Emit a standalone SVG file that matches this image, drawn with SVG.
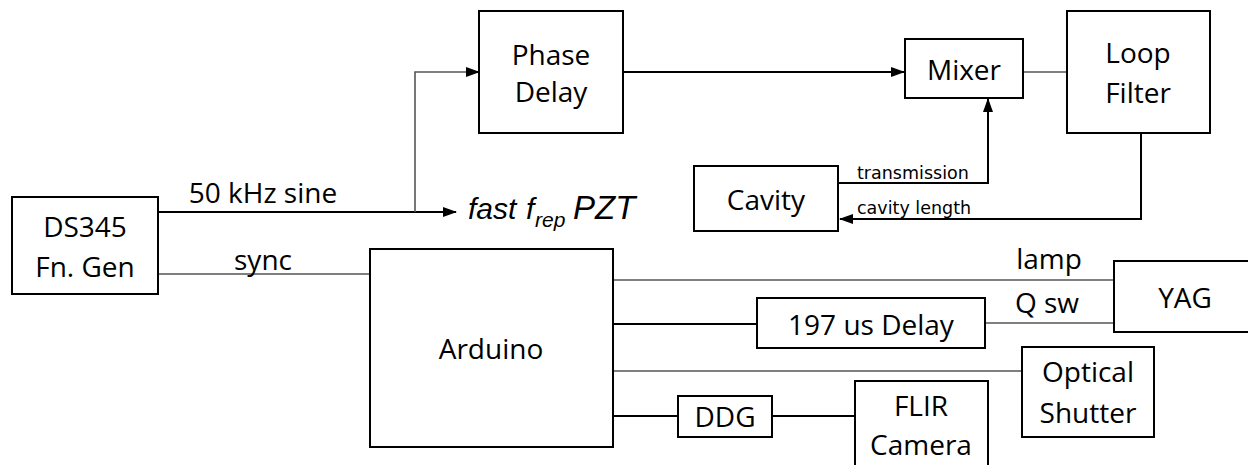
<svg xmlns="http://www.w3.org/2000/svg" width="1248" height="465" viewBox="0 0 1248 465">
<defs>
<marker id="arr" markerUnits="userSpaceOnUse" markerWidth="14" markerHeight="10" refX="13" refY="5" orient="auto">
<path d="M0,0 L14,5 L0,10 z" fill="#000"/>
</marker>
<style>
.box{fill:#fff;stroke:#000;stroke-width:2}
.t{font-family:"Open Sans","Liberation Sans",sans-serif;font-size:28px;fill:#000;text-anchor:middle}
.s{font-family:"DejaVu Sans",sans-serif;font-size:17.5px;fill:#000}
.w{fill:none;stroke:#000;stroke-width:2}
.g{fill:none;stroke:#555;stroke-width:1.6}
.it{font-family:"Liberation Sans",Arial,sans-serif;font-style:italic;font-size:30px;fill:#000}
</style>
</defs>
<rect width="1248" height="465" fill="#fff"/>
<g id="connectors">
<path class="w" d="M158,212 H456" marker-end="url(#arr)"/>
<path class="g" d="M415,212 V72 H466"/>
<path class="w" d="M466,72 H479" marker-end="url(#arr)"/>
<path class="w" d="M623,72 H904" marker-end="url(#arr)"/>
<path class="g" d="M1023,72 H1067"/>
<path class="w" d="M838,183 H988 V99" marker-end="url(#arr)"/>
<path class="w" d="M1141,133 V219 H840" marker-end="url(#arr)"/>
<path class="g" d="M158,274 H370"/>
<path class="g" d="M613,280 H1114"/>
<path class="w" d="M613,324 H757"/>
<path class="g" d="M985,323 H1114"/>
<path class="g" d="M613,371 H1022"/>
<path class="w" d="M613,416 H678"/>
<path class="w" d="M772,416 H855"/>
<text class="t" x="263" y="203">50 kHz sine</text>
<text class="t" x="263" y="270">sync</text>
<text class="t" x="1049" y="269">lamp</text>
<text class="t" x="1047" y="313">Q sw</text>
<text class="s" x="857" y="179">transmission</text>
<text class="s" x="857" y="214">cavity length</text>
<text class="it" y="219"><tspan x="468">fast</tspan><tspan x="526">f</tspan><tspan x="535" dy="8" font-size="21">rep</tspan><tspan x="573" dy="-8" font-size="33">PZT</tspan></text>
</g>
<g id="ds345">
<rect class="box" x="12" y="197" width="146" height="97"/>
<text class="t" x="85" y="237">DS345</text>
<text class="t" x="85" y="277">Fn. Gen</text>
</g>
<g id="phase-delay">
<rect class="box" x="479" y="11" width="144" height="122"/>
<text class="t" x="551" y="65">Phase</text>
<text class="t" x="551" y="102">Delay</text>
</g>
<g id="mixer">
<rect class="box" x="905" y="39" width="118" height="59"/>
<text class="t" x="964" y="80">Mixer</text>
</g>
<g id="loop-filter">
<rect class="box" x="1067" y="11" width="143" height="122"/>
<text class="t" x="1138" y="63">Loop</text>
<text class="t" x="1138" y="103">Filter</text>
</g>
<g id="cavity">
<rect class="box" x="694" y="166" width="144" height="65"/>
<text class="t" x="766" y="210">Cavity</text>
</g>
<g id="arduino">
<rect class="box" x="370" y="249" width="243" height="198"/>
<text class="t" x="491" y="359">Arduino</text>
</g>
<g id="delay197">
<rect class="box" x="757" y="298" width="228" height="50"/>
<text class="t" x="871" y="335">197 us Delay</text>
</g>
<g id="yag">
<rect class="box" x="1114" y="261" width="150" height="71"/>
<text class="t" x="1185" y="308">YAG</text>
</g>
<g id="optical-shutter">
<rect class="box" x="1022" y="347" width="132" height="90"/>
<text class="t" x="1088" y="382">Optical</text>
<text class="t" x="1088" y="423">Shutter</text>
</g>
<g id="ddg">
<rect class="box" x="678" y="396" width="94" height="41"/>
<text class="t" x="725" y="427">DDG</text>
</g>
<g id="flir">
<rect class="box" x="855" y="381" width="133" height="100"/>
<text class="t" x="921" y="416">FLIR</text>
<text class="t" x="921" y="455">Camera</text>
</g>
</svg>
